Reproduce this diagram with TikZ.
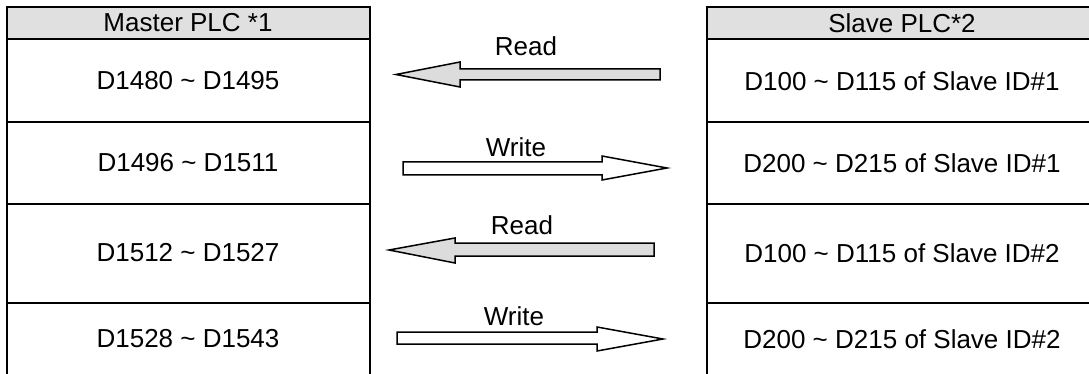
\documentclass[tikz,border=0pt]{standalone}
\usepackage{fontspec}
\setmainfont{Liberation Sans}
\definecolor{hdrgray}{HTML}{E0E0E0}
\definecolor{arrgray}{HTML}{DCDCDC}
\begin{document}
\begin{tikzpicture}[x=1pt,y=-1pt,
  cell/.style={draw=black,line width=2.5pt,inner sep=0pt,outer sep=0pt},
  txt/.style={font=\fontsize{26}{30}\selectfont,inner sep=0pt,anchor=center},
  blockarrow/.style={draw=black,line width=1.5pt,line join=miter},
  readarrow/.style={blockarrow,fill=arrgray},
  writearrow/.style={blockarrow,fill=white}]
\useasboundingbox (0,0) rectangle (1089,374);
\begin{scope}
\clip (0,0) rectangle (1089,374);
% Left table
\fill[hdrgray] (7,7) rectangle (370,39);
\draw[cell] (7,7) rectangle (370,39);
\draw[cell] (7,39) rectangle (370,122);
\draw[cell] (7,122) rectangle (370,204);
\draw[cell] (7,204) rectangle (370,303);
\draw[cell] (7,303) rectangle (370,378);
% Right table
\fill[hdrgray] (707,7) rectangle (1098,39);
\draw[cell] (707,7) rectangle (1098,39);
\draw[cell] (707,39) rectangle (1098,122);
\draw[cell] (707,122) rectangle (1098,204);
\draw[cell] (707,204) rectangle (1098,303);
\draw[cell] (707,303) rectangle (1098,378);
\end{scope}
% Left texts
\node[txt] (mh) at (188,23) {Master PLC *1};
\node[txt] (m1) at (188,81) {D1480 \char`~\ D1495};
\node[txt] (m2) at (188,163) {D1496 \char`~\ D1511};
\node[txt] (m3) at (188,253) {D1512 \char`~\ D1527};
\node[txt] (m4) at (188,339) {D1528 \char`~\ D1543};
% Right texts
\node[txt] (sh) at (902,23) {Slave PLC*2};
\node[txt] (s1) at (902,81) {D100 \char`~\ D115 of Slave ID\#1};
\node[txt] (s2) at (902,163) {D200 \char`~\ D215 of Slave ID\#1};
\node[txt] (s3) at (902,253) {D100 \char`~\ D115 of Slave ID\#2};
\node[txt] (s4) at (902,339) {D200 \char`~\ D215 of Slave ID\#2};
% Arrow 1: Read
\draw[readarrow] (660,69) -- (460,69) -- (460,62) -- (396,74.5) -- (460,87) -- (460,80) -- (660,80) -- cycle;
\node[txt] (l1) at (526,46) {Read};
% Arrow 2: Write
\draw[writearrow] (403,162) -- (602,162) -- (602,156) -- (667,168) -- (602,180) -- (602,175) -- (403,175) -- cycle;
\node[txt] (l2) at (516,147) {Write};
% Arrow 3: Read
\draw[readarrow] (654,243) -- (455,243) -- (455,238) -- (389,250) -- (455,263) -- (455,256) -- (654,256) -- cycle;
\node[txt] (l3) at (522,225) {Read};
% Arrow 4: Write
\draw[writearrow] (397,332) -- (597,332) -- (597,327) -- (663,339) -- (597,351) -- (597,344) -- (397,344) -- cycle;
\node[txt] (l4) at (514,316) {Write};
\end{tikzpicture}
\end{document}
